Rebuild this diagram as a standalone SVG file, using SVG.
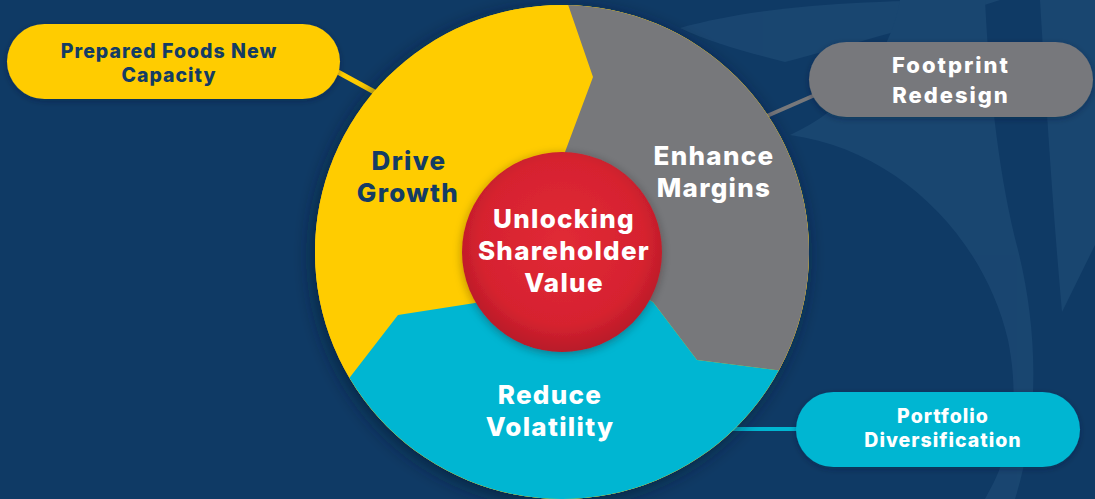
<svg xmlns="http://www.w3.org/2000/svg" width="1095" height="499" viewBox="0 0 1095 499">
  <style>
    .lbl { font-family: Inter, "Open Sans", "Liberation Sans", sans-serif; font-weight: 800; text-anchor: middle; }
    .big { font-size: 26px; letter-spacing: 1.3px; }
    .pill { font-size: 19.5px; letter-spacing: 1px; }
    .fp { font-size: 22px; letter-spacing: 2px; }
    .navy { fill: #143c64; }
    .white { fill: #ffffff; }
    .conn { fill: none; stroke-linecap: butt; }
    .swirl { fill: #1d4a74; }
  </style>
  <defs>
    <clipPath id="outerClip">
      <circle cx="562" cy="252" r="247"/>
    </clipPath>
    <radialGradient id="redGrad" cx="0.5" cy="0.45" r="0.55">
      <stop offset="0" stop-color="#e12a36"/>
      <stop offset="0.75" stop-color="#d6222f"/>
      <stop offset="1" stop-color="#b81b29"/>
    </radialGradient>
    <filter id="bigShadow" x="-20%" y="-20%" width="140%" height="140%">
      <feDropShadow dx="-3" dy="4" stdDeviation="9" flood-color="#051a33" flood-opacity="0.65"/>
    </filter>
    <filter id="redShadow" x="-30%" y="-30%" width="160%" height="160%">
      <feDropShadow dx="0" dy="2" stdDeviation="5" flood-color="#2a0a0a" flood-opacity="0.35"/>
    </filter>
    <filter id="pillShadow" x="-10%" y="-30%" width="120%" height="160%">
      <feDropShadow dx="0" dy="2" stdDeviation="3" flood-color="#051a33" flood-opacity="0.35"/>
    </filter>
  </defs>

  <!-- background -->
  <rect x="0" y="0" width="1095" height="499" fill="#0f3a65"/>
  <g id="background-swirls" opacity="0.75">
    <path class="swirl" d="M 680,28 C 760,6 860,0 985,0 L 1000,0 C 930,22 850,45 785,62 C 745,52 710,42 680,28 Z"/>
    <path class="swirl" d="M 790,135 C 900,150 985,240 1008,340 C 1022,410 1008,460 985,499 L 1015,499 C 1040,420 1038,330 1018,250 C 1000,180 990,100 985,0 L 900,0 C 890,60 845,110 790,135 Z"/>
    <path class="swirl" d="M 1040,0 L 1095,0 L 1095,245 L 1062,312 C 1052,200 1046,100 1040,0 Z"/>
  </g>

  <!-- connectors -->
  <g id="connectors" class="conn">
    <line x1="336" y1="71" x2="380" y2="95" stroke="#ffcc00" stroke-width="5"/>
    <line x1="815" y1="95" x2="760" y2="119" stroke="#77787b" stroke-width="4"/>
    <line x1="730" y1="429" x2="800" y2="429" stroke="#00b6d2" stroke-width="4"/>
  </g>

  <!-- main wheel -->
  <g id="wheel">
    <circle cx="562" cy="252" r="247" fill="#ffcc00" filter="url(#bigShadow)"/>
    <g clip-path="url(#outerClip)">
      <g id="segment-drive-growth">
        <rect x="300" y="0" width="530" height="499" fill="#ffcc00"/>
      </g>
      <g id="segment-enhance-margins">
        <polygon points="563,-10 593,77 565,152 562,252 653,302 697,360 830,377 830,-10" fill="#77787b"/>
      </g>
      <g id="segment-reduce-volatility">
        <polygon points="562,252 475,303 398,315 320,416 320,510 830,510 830,377 697,360 653,302" fill="#00b6d2"/>
      </g>
    </g>
  </g>

  <g id="center">
    <circle cx="562" cy="252" r="100" fill="url(#redGrad)" filter="url(#redShadow)"/>
    <text class="lbl big white" x="564" y="228">Unlocking</text>
    <text class="lbl big white" x="564" y="260">Shareholder</text>
    <text class="lbl big white" x="564" y="292">Value</text>
  </g>

  <g id="label-drive-growth">
    <text class="lbl big navy" x="409" y="170">Drive</text>
    <text class="lbl big navy" x="408" y="202">Growth</text>
  </g>
  <g id="label-enhance-margins">
    <text class="lbl big white" x="714" y="165">Enhance</text>
    <text class="lbl big white" x="714" y="197">Margins</text>
  </g>
  <g id="label-reduce-volatility">
    <text class="lbl big white" x="550" y="404">Reduce</text>
    <text class="lbl big white" x="550" y="436">Volatility</text>
  </g>

  <!-- pills -->
  <g id="pill-prepared-foods">
    <rect x="7" y="24" width="333" height="75" rx="37.5" fill="#ffcc00" filter="url(#pillShadow)"/>
    <text class="lbl pill navy" x="169" y="58">Prepared Foods New</text>
    <text class="lbl pill navy" x="169" y="82">Capacity</text>
  </g>
  <g id="pill-footprint">
    <rect x="809" y="42" width="284" height="75" rx="37.5" fill="#77787b" filter="url(#pillShadow)"/>
    <text class="lbl fp white" x="951" y="73">Footprint</text>
    <text class="lbl fp white" x="951" y="103">Redesign</text>
  </g>
  <g id="pill-portfolio">
    <rect x="796" y="392" width="284" height="75" rx="37.5" fill="#00b6d2" filter="url(#pillShadow)"/>
    <text class="lbl pill white" x="943" y="423">Portfolio</text>
    <text class="lbl pill white" x="943" y="447">Diversification</text>
  </g>
</svg>
